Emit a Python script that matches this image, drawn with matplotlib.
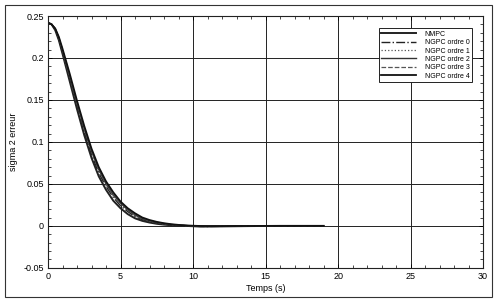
import matplotlib
matplotlib.use("Agg")
import matplotlib.pyplot as plt
from matplotlib.patches import Rectangle
from matplotlib.ticker import MultipleLocator

plt.rcParams['font.family'] = ['Liberation Sans', 'DejaVu Sans']

t = [0, 0.25, 0.5, 0.75, 1, 1.5, 2, 2.5, 3, 3.5, 4, 4.5, 5, 5.5, 6, 6.5, 7, 7.5, 8, 8.5, 9,
     9.5, 10, 10.5, 11, 12, 13, 14, 15, 16, 17, 18, 19]

nmpc = [0.242, 0.240, 0.233, 0.221, 0.205, 0.172, 0.139, 0.108, 0.081, 0.059, 0.043, 0.030, 0.021,
        0.014, 0.009, 0.006, 0.004, 0.0025, 0.0015, 0.0008, 0.0003, 0.0, -0.0004,
        -0.0008, -0.0008, -0.0006, -0.0004, -0.0002, -0.0001, 0.0, 0.0, 0.0, 0.0]
ngpc0 = [0.242, 0.240, 0.234, 0.222, 0.207, 0.175, 0.142, 0.112, 0.085, 0.063, 0.047, 0.034, 0.024,
         0.017, 0.011, 0.0075, 0.005, 0.0033, 0.002, 0.0012, 0.0006, 0.0002, -0.0003,
         -0.0006, -0.0007, -0.0005, -0.0003, -0.0002, -0.0001, 0.0, 0.0, 0.0, 0.0]
ngpc1 = [0.242, 0.240, 0.234, 0.223, 0.208, 0.177, 0.145, 0.115, 0.088, 0.066, 0.049, 0.036, 0.026,
         0.018, 0.012, 0.008, 0.0055, 0.0036, 0.0023, 0.0014, 0.0008, 0.0003, -0.0001,
         -0.0004, -0.0005, -0.0004, -0.0003, -0.0002, -0.0001, 0.0, 0.0, 0.0, 0.0]
ngpc2 = [0.242, 0.240, 0.235, 0.224, 0.209, 0.178, 0.146, 0.116, 0.089, 0.067, 0.050, 0.037, 0.027,
         0.019, 0.013, 0.0088, 0.006, 0.004, 0.0026, 0.0016, 0.0009, 0.0004, 0.0,
         -0.0003, -0.0004, -0.0003, -0.0002, -0.0001, 0.0, 0.0, 0.0, 0.0, 0.0]
ngpc3 = [0.242, 0.240, 0.235, 0.224, 0.210, 0.179, 0.147, 0.117, 0.090, 0.068, 0.051, 0.038, 0.028,
         0.020, 0.014, 0.0095, 0.0065, 0.0044, 0.0029, 0.0018, 0.0011, 0.0005, 0.0001,
         -0.0002, -0.0003, -0.0003, -0.0002, -0.0001, 0.0, 0.0, 0.0, 0.0, 0.0]
ngpc4 = [0.242, 0.240, 0.235, 0.225, 0.211, 0.181, 0.149, 0.119, 0.092, 0.070, 0.053, 0.040, 0.029,
         0.021, 0.015, 0.010, 0.007, 0.0048, 0.0032, 0.002, 0.0012, 0.0006, 0.0002,
         -0.0001, -0.0002, -0.0002, -0.0001, -0.0001, 0.0, 0.0, 0.0, 0.0, 0.0]

labels = ["NMPC", "NGPC ordre 0", "NGPC ordre 1", "NGPC ordre 2", "NGPC ordre 3", "NGPC ordre 4"]
series = [nmpc, ngpc0, ngpc1, ngpc2, ngpc3, ngpc4]
styles = [
    dict(color='#222222', lw=1.4, ls='-'),
    dict(color='#222222', lw=1.0, ls='-.'),
    dict(color='#555555', lw=0.9, ls=':'),
    dict(color='#333333', lw=1.0, ls='-'),
    dict(color='#555555', lw=0.9, ls='--'),
    dict(color='#111111', lw=1.3, ls='-'),
]

fig = plt.figure(figsize=(4.95, 3.02), dpi=100)
ax = fig.add_axes([0.097, 0.113, 0.879, 0.834])

for s, lab, st in zip(series, labels, styles):
    ax.plot(t, s, label=lab, **st)

ax.set_xlim(0, 30)
ax.set_ylim(-0.05, 0.25)
ax.xaxis.set_major_locator(MultipleLocator(5))
ax.xaxis.set_minor_locator(MultipleLocator(1))
ax.yaxis.set_minor_locator(MultipleLocator(0.01))
ax.set_yticks([-0.05, 0, 0.05, 0.1, 0.15, 0.2, 0.25])
ax.set_yticklabels(["-0.05", "0", "0.05", "0.1", "0.15", "0.2", "0.25"])
ax.tick_params(which='both', direction='in', top=True, right=True, labelsize=6.5, pad=3)
ax.tick_params(which='major', length=3, width=0.6)
ax.tick_params(which='minor', length=2, width=0.5)
ax.grid(True, which='major', color='#222222', lw=0.7, ls='-')
for sp in ax.spines.values():
    sp.set_linewidth(0.8)
    sp.set_color('#222222')

ax.set_xlabel("Temps (s)", fontsize=6.5, labelpad=2)
ax.set_ylabel("sigma 2 erreur", fontsize=6.5, labelpad=4)

leg = ax.legend(loc='upper right', bbox_to_anchor=(0.982, 0.965), fontsize=5,
                frameon=True, fancybox=False, edgecolor='#222222', framealpha=1,
                handlelength=5, handletextpad=1.2, labelspacing=0.2,
                borderpad=0.35)
leg.get_frame().set_linewidth(0.7)

fig.patches.append(Rectangle((0.01, 0.017), 0.984, 0.966, transform=fig.transFigure,
                             fill=False, edgecolor='#333333', lw=0.8))

fig.savefig("out.png", dpi=100)
